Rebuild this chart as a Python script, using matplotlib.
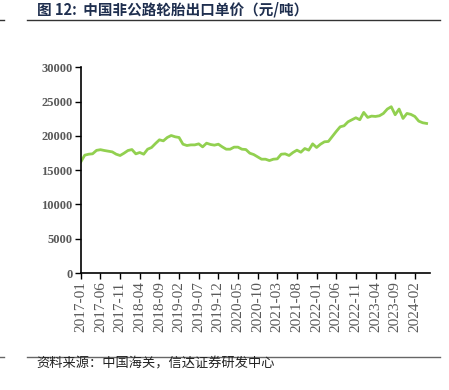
import numpy as np
import pandas as pd
import matplotlib
matplotlib.use("Agg")
import matplotlib.pyplot as plt

plt.rcParams['font.family'] = ['Noto Sans CJK SC', 'DejaVu Sans']

# 中国非公路轮胎出口单价（元/吨），2017-01 ~ 2024-05
meses = pd.date_range("2017-01", periods=89, freq="MS").strftime("%Y-%m").tolist()
preco = [
    16220, 17200, 17340, 17400, 17900, 18000, 17880, 17780, 17680, 17340,
    17150, 17490, 17880, 18020, 17390, 17590, 17340, 18070, 18320, 18900,
    19440, 19290, 19780, 20070, 19880, 19780, 18800, 18610, 18700, 18700,
    18850, 18410, 18950, 18760, 18660, 18800, 18410, 18070, 18070, 18370,
    18370, 18070, 18020, 17490, 17290, 16950, 16610, 16610, 16410, 16610,
    16660, 17340, 17390, 17150, 17590, 17930, 17630, 18170, 17930, 18850,
    18320, 18800, 19150, 19200, 19930, 20660, 21340, 21490, 22070, 22370,
    22660, 22370, 23440, 22710, 22900, 22850, 22950, 23290, 23930, 24270,
    23100, 23930, 22560, 23290, 23150, 22850, 22170, 21930, 21830,
]
yticks = [0, 5000, 10000, 15000, 20000, 25000, 30000]

fig = plt.figure(figsize=(4.49, 3.90), dpi=100)
ax = fig.add_axes([0.180, 0.300, 0.778, 0.527])

x = np.arange(len(meses))
ax.plot(x, preco, color="#92d050", linewidth=2.0)

ax.set_xlim(0, len(meses) - 0.1)
ax.set_ylim(0, 30000)
ax.set_yticks(yticks)
ax.set_xticks(x[::5])

ax.set_yticklabels([str(v) for v in yticks],
                   fontdict={"family": "Liberation Serif", "size": 9, "weight": "bold"},
                   color="#595959")
ax.set_xticklabels(meses[::5],
                   fontdict={"family": "Liberation Serif", "size": 11},
                   color="#595959", rotation=90)

for lado in ["top", "right"]:
    ax.spines[lado].set_visible(False)
ax.spines["left"].set_linewidth(1.2)
ax.spines["bottom"].set_linewidth(1.2)
ax.tick_params(axis="both", direction="out", length=4, width=1.0, pad=2)

# titulo e linhas
fig.text(0.082, 0.975, "图 12:  中国非公路轮胎出口单价（元/吨）", fontsize=10.5,
         fontweight="bold", color="#1f2f4f", va="center", ha="left")
fig.add_artist(plt.Line2D([0.06, 0.98], [0.949, 0.949], color="#333333", linewidth=1.0))
fig.add_artist(plt.Line2D([0.0, 0.010], [0.949, 0.949], color="#333333", linewidth=1.0))

fig.add_artist(plt.Line2D([0.06, 0.98], [0.085, 0.085], color="#666666", linewidth=1.0))
fig.add_artist(plt.Line2D([0.0, 0.010], [0.085, 0.085], color="#666666", linewidth=1.0))
fig.text(0.082, 0.066, "资料来源：中国海关，信达证券研发中心", fontsize=9.5,
         style="italic", color="#222222", va="center", ha="left")

fig.savefig("out.png", dpi=100)
